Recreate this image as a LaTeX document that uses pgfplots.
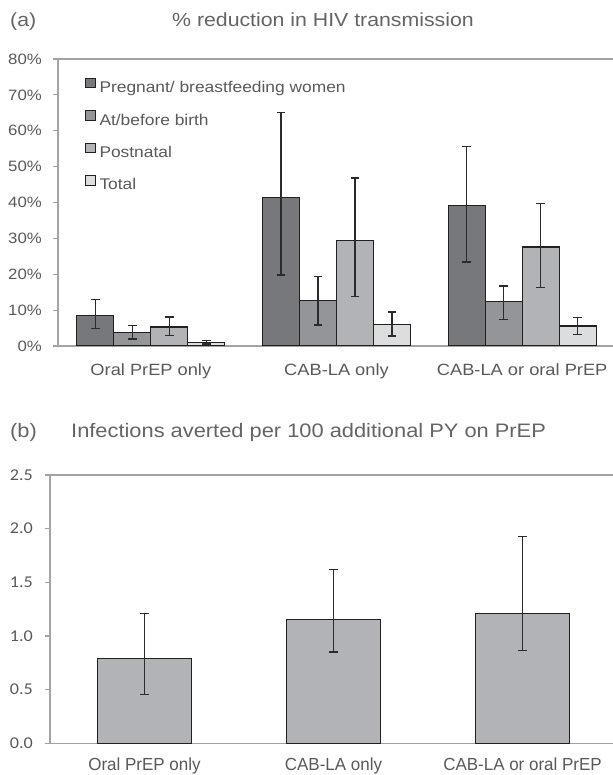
\documentclass[border=0pt]{standalone}
\usepackage{fontspec}
\setmainfont{Liberation Sans}
\newfontfamily\fTitle[FakeStretch=1.12]{Liberation Sans}
\newfontfamily\fTop[FakeStretch=1.12]{Liberation Sans}
\newfontfamily\fLeg[FakeStretch=1.12]{Liberation Sans}
\newfontfamily\fBotTick[FakeStretch=1.1]{Carlito}
\newfontfamily\fBotCat[FakeStretch=0.97]{Liberation Sans}
\usepackage{pgfplots}
\pgfplotsset{compat=1.18}
\definecolor{cP}{HTML}{77787B}
\definecolor{cA}{HTML}{939598}
\definecolor{cPo}{HTML}{B1B3B6}
\definecolor{cT}{HTML}{DCDDDE}
\definecolor{edge}{HTML}{231F20}
\definecolor{axisgray}{HTML}{A3A3A3}
\definecolor{labgray}{HTML}{595959}
\definecolor{titlegray}{HTML}{646464}
\definecolor{ebcol}{HTML}{2B2B2B}
\pgfplotsset{
  sqlegend/.style={legend image code/.code={\draw[##1,line width=1pt] (0pt,0pt) rectangle (9.5pt,9.5pt);}},
  eb/.style={error bars/.cd, y dir=both, y explicit,
    error bar style={line width=1.3pt, draw=ebcol},
    error mark options={rotate=90, mark size=4.3pt, line width=1.3pt, draw=ebcol}},
  myaxis/.style={
    scale only axis, xmin=-0.5, xmax=2.5, ymin=0,
    axis line style={draw=axisgray, line width=1.2pt},
    ytick pos=left, tick align=outside, major tick length=5pt,
    ytick style={draw=axisgray, line width=1.2pt},
    xtick style={draw=none},
    xtick={0,1,2},
    xticklabels={Oral PrEP only, CAB-LA only, CAB-LA or oral PrEP},
  }
}
\begin{document}
\begin{tikzpicture}
\useasboundingbox (0,0) rectangle (612pt,775pt);
% titles
\node[anchor=base west, inner sep=0pt, text=titlegray, font=\fTitle\fontsize{19}{19}\selectfont] at (10pt,748pt) {(a)};
\node[anchor=base west, inner sep=0pt, text=titlegray, font=\fTitle\fontsize{19}{19}\selectfont] at (172pt,748pt) {\% reduction in HIV transmission};
\node[anchor=base west, inner sep=0pt, text=titlegray, font=\fTitle\fontsize{19.5}{19.5}\selectfont] at (10pt,337pt) {(b)};
\node[anchor=base west, inner sep=0pt, text=titlegray, font=\fTitle\fontsize{19.5}{19.5}\selectfont] at (71pt,337pt) {Infections averted per 100 additional PY on PrEP};

\begin{axis}[myaxis,
  at={(58pt,429pt)}, anchor=south west, width=557pt, height=287pt,
  ymax=80,
  ybar=0pt, bar width=37pt,
  ytick={0,10,...,80},
  yticklabels={0\%,10\%,20\%,30\%,40\%,50\%,60\%,70\%,80\%},
  yticklabel style={font=\fTop\fontsize{15}{15}\selectfont, text=labgray, inner sep=0pt, xshift=-11pt},
  xticklabel style={font=\fTop\fontsize{16.3}{16.3}\selectfont, text=labgray, anchor=base, inner sep=0pt, yshift=-25pt},
  legend style={at={(axis description cs:0.0485,0.934)}, anchor=north west, draw=none, fill=none,
    inner sep=0pt, outer sep=0pt, font=\fLeg\fontsize{15.5}{15.5}\selectfont, text=labgray,
    row sep=16pt, column sep=4pt, nodes={inner sep=0pt}},
  legend cell align=left,
]
\addplot[fill=cP, draw=edge, line width=1.2pt, sqlegend, eb] coordinates {
  (0,8.6)  += (0,4.4)  -= (0,3.8)
  (1,41.3) += (0,23.7) -= (0,21.5)
  (2,39.1) += (0,16.6) -= (0,15.7)
};
\addplot[fill=cA, draw=edge, line width=1.2pt, sqlegend, eb] coordinates {
  (0,3.8)  += (0,1.9)  -= (0,1.85)
  (1,12.6) += (0,6.7)  -= (0,6.75)
  (2,12.4) += (0,4.3)  -= (0,5.0)
};
\addplot[fill=cPo, draw=edge, line width=1.2pt, sqlegend, eb] coordinates {
  (0,5.3)  += (0,2.8)  -= (0,2.3)
  (1,29.5) += (0,17.3) -= (0,15.7)
  (2,27.6) += (0,12.2) -= (0,11.2)
};
\addplot[fill=cT, draw=edge, line width=1.2pt, sqlegend, eb] coordinates {
  (0,1.0)  += (0,0.6)  -= (0,0.45)
  (1,6.0)  += (0,3.5)  -= (0,3.2)
  (2,5.6)  += (0,2.3)  -= (0,2.35)
};
\legend{Pregnant/ breastfeeding women, At/before birth, Postnatal, Total}
\end{axis}

\begin{axis}[myaxis,
  at={(50pt,31.7pt)}, anchor=south west, width=567pt, height=268.3pt,
  ymax=2.5,
  ybar=0pt, bar width=94.7pt,
  ytick={0,0.5,...,2.5},
  yticklabels={0.0,0.5,1.0,1.5,2.0,2.5},
  yticklabel style={font=\fBotTick\fontsize{16.5}{16.5}\selectfont, text=labgray, inner sep=0pt, xshift=-12pt},
  xticklabel style={font=\fBotCat\fontsize{17.5}{17.5}\selectfont, text=labgray, anchor=base, inner sep=0pt, yshift=-22pt},
]
\addplot[fill=cPo, draw=edge, line width=1.2pt, eb] coordinates {
  (0,0.789) += (0,0.419) -= (0,0.336)
  (1,1.152) += (0,0.468) -= (0,0.302)
  (2,1.211) += (0,0.713) -= (0,0.345)
};
\end{axis}
\end{tikzpicture}
\end{document}
